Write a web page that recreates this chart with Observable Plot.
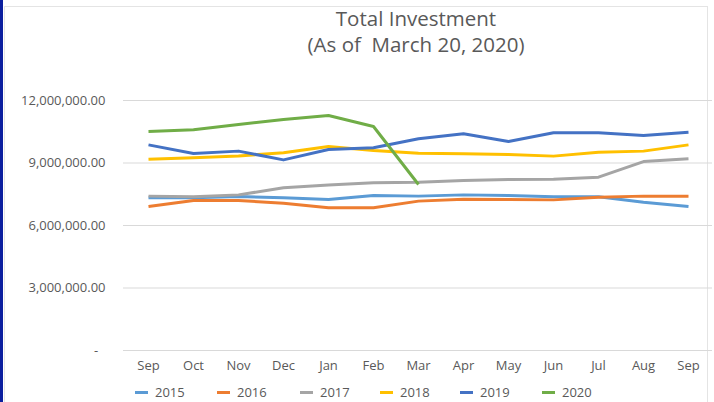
<!DOCTYPE html>
<html>
<head>
<meta charset="utf-8">
<script src="https://cdn.jsdelivr.net/npm/d3@7"></script>
<script src="https://cdn.jsdelivr.net/npm/@observablehq/plot@0.6"></script>
<style>
  html, body { margin: 0; padding: 0; background: #fff; }
  #wrap { position: relative; width: 714px; height: 402px; overflow: hidden; font-family: "Open Sans", sans-serif; color: #595959; }
  #blue { position: absolute; left: 0; top: 0; width: 3px; height: 402px; background: #0b1f9e; }
  #frame { position: absolute; left: 4px; top: 6px; width: 702px; height: 420px; border: 1px solid #e4e4e4; }
  #title { position: absolute; left: 216px; width: 400px; top: 5px; text-align: center; font-size: 20.5px; line-height: 26px; color: #595959; }
  #chart { position: absolute; left: 0; top: 0; }
  #legend { position: absolute; top: 384px; left: 0; width: 714px; height: 17px; font-size: 13px; line-height: 17px; }
  .item { position: absolute; top: 0; height: 17px; display: flex; align-items: center; white-space: nowrap; }
  .sw { width: 13px; height: 3px; margin-right: 7px; }
</style>
</head>
<body>
<div id="wrap">
  <div id="frame"></div>
  <div id="blue"></div>
  <div id="title">Total Investment<br>(As of&nbsp; March 20, 2020)</div>
  <div id="chart"></div>
  <div id="legend"></div>
</div>
<script>
const months = ["Sep","Oct","Nov","Dec","Jan","Feb","Mar","Apr","May","Jun","Jul","Aug","Sep"];
const years = ["2015","2016","2017","2018","2019","2020"];
const colors = ["#5B9BD5","#ED7D31","#A5A5A5","#FFC000","#4472C4","#70AD47"];
const yTicks = [0, 3000000, 6000000, 9000000, 12000000];

const s2015 = [7330000, 7330000, 7390000, 7330000, 7250000, 7440000, 7410000, 7470000, 7440000, 7380000, 7380000, 7120000, 6910000];
const s2016 = [6910000, 7200000, 7200000, 7070000, 6850000, 6850000, 7170000, 7260000, 7250000, 7230000, 7360000, 7410000, 7410000];
const s2017 = [7410000, 7380000, 7470000, 7810000, 7940000, 8050000, 8080000, 8160000, 8210000, 8220000, 8320000, 9070000, 9200000];
const s2018 = [9180000, 9250000, 9340000, 9490000, 9790000, 9600000, 9470000, 9440000, 9410000, 9330000, 9520000, 9570000, 9870000];
const s2019 = [9870000, 9460000, 9570000, 9150000, 9650000, 9730000, 10160000, 10400000, 10030000, 10450000, 10450000, 10320000, 10480000];
const s2020 = [10510000, 10600000, 10850000, 11090000, 11280000, 10750000, 7970000];

const series = [s2015, s2016, s2017, s2018, s2019, s2020];
const data = [];
series.forEach((arr, k) => arr.forEach((v, i) => data.push({year: years[k], i, v})));

const fmt = d3.format(",.2f");
const tickFormat = d => d === 0 ? "-\u2007" : fmt(d);

const chart = Plot.plot({
  width: 714,
  height: 402,
  marginTop: 100,
  marginBottom: 52,
  marginLeft: 123,
  marginRight: 2,
  style: {fontFamily: "'Open Sans', sans-serif", fontSize: "13px", color: "#595959", background: "transparent"},
  x: {type: "point", domain: d3.range(13), padding: 0.5},
  y: {domain: [0, 12000000]},
  color: {domain: years, range: colors},
  marks: [
    Plot.ruleY(yTicks, {stroke: "#d9d9d9", strokeWidth: 1}),
    Plot.axisX({tickFormat: i => months[i], tickSize: 0, tickPadding: 10, label: null, fill: "#595959"}),
    Plot.axisY({ticks: yTicks, tickFormat, tickSize: 0, tickPadding: 18, label: null, fill: "#595959"}),
    Plot.line(data, {x: "i", y: "v", z: "year", stroke: "year", strokeWidth: 3, strokeLinejoin: "round", strokeLinecap: "butt"})
  ]
});
document.getElementById("chart").appendChild(chart);

const lefts = [135, 217, 300, 380, 460, 542];
const legend = document.getElementById("legend");
years.forEach((y, k) => {
  const it = document.createElement("div");
  it.className = "item";
  it.style.left = lefts[k] + "px";
  it.innerHTML = `<span class="sw" style="background:${colors[k]}"></span><span>${y}</span>`;
  legend.appendChild(it);
});
</script>
</body>
</html>
